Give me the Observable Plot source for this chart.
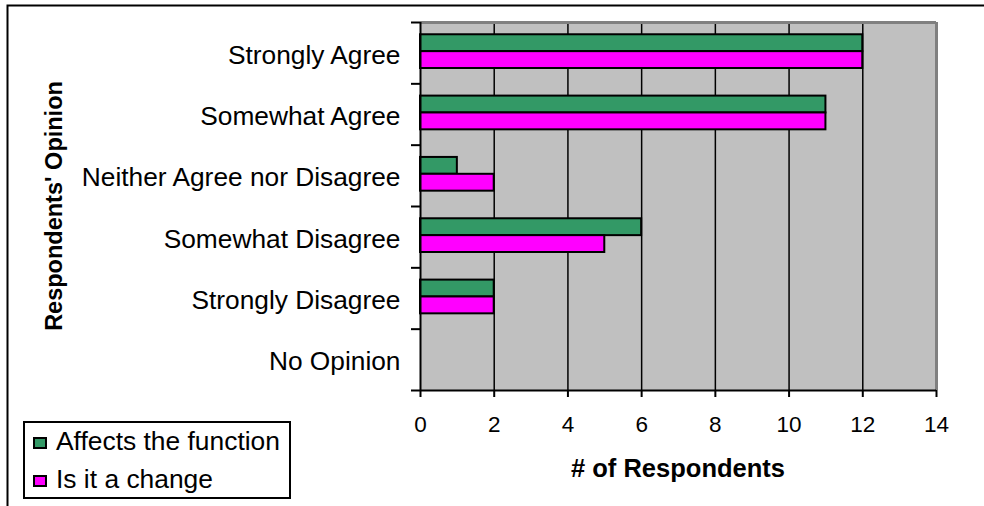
<!DOCTYPE html>
<html><head><meta charset="utf-8">
<script src="https://cdn.jsdelivr.net/npm/d3@7"></script>
<script src="https://cdn.jsdelivr.net/npm/@observablehq/plot@0.6"></script>
<style>
body{margin:0;background:#fff;font-family:"Liberation Sans",Arial,sans-serif;}
#wrap{position:relative;width:984px;height:506px;overflow:hidden;}
#wrap svg{position:absolute;left:0;top:0;}
</style></head><body><div id="wrap"></div>
<script>
const categories = ["Strongly Agree","Somewhat Agree","Neither Agree nor Disagree","Somewhat Disagree","Strongly Disagree","No Opinion"];
const affectsFunction = [12,11,1,6,2,0];
const isChange = [12,11,2,5,2,0];
const seriesNames = ["Affects the function","Is it a change"];
const seriesColors = ["#339966","#ff00ff"];
const xTicks = [0,2,4,6,8,10,12,14];
const xLabel = "# of Respondents";
const yLabel = "Respondents' Opinion";

const rows = [];
categories.forEach((c,i)=>{
  rows.push({category:c, index:i, series:seriesNames[0], value:affectsFunction[i], slot:0});
  rows.push({category:c, index:i, series:seriesNames[1], value:isChange[i], slot:1});
});
const bars = rows.filter(d=>d.value>0);
const slotEdges = [0.2, 0.475, 0.75];

const chart = Plot.plot({
  width:984, height:506,
  marginLeft:420, marginRight:48, marginTop:22, marginBottom:116,
  style:{fontFamily:"Liberation Sans, Arial, sans-serif", color:"#000", background:"transparent"},
  x:{domain:[0,14]},
  y:{domain:[0,categories.length], reverse:true},
  color:{domain:seriesNames, range:seriesColors},
  marks:[
    Plot.frame({fill:"#c0c0c0", stroke:null}),
    Plot.ruleX(xTicks.filter(t=>t>0&&t<14), {stroke:"#000", strokeWidth:1.5}),
    Plot.ruleY([0], {stroke:"#808080", strokeWidth:3}),
    Plot.ruleX([14], {stroke:"#808080", strokeWidth:3}),
    Plot.rect(bars, {x1:d=>0, x2:"value", y1:d=>d.index+slotEdges[d.slot], y2:d=>d.index+slotEdges[d.slot+1], fill:"series", stroke:"#000", strokeWidth:2}),
    Plot.ruleX([0], {stroke:"#000", strokeWidth:2}),
    Plot.ruleY([categories.length], {stroke:"#000", strokeWidth:2}),
    Plot.axisX({ticks:xTicks, tickSize:7, tickPadding:19, fontSize:22.5, strokeWidth:2, label:null}),
    Plot.axisY({ticks:d3.range(categories.length+1), tickSize:9, strokeWidth:2, tickFormat:()=>"", label:null}),
    Plot.axisY({ticks:categories.map((c,i)=>i+0.5), tickSize:0, tickPadding:20, fontSize:26.3, tickFormat:v=>categories[Math.floor(v)], label:null, dy:2})
  ]
});
const wrap = document.getElementById("wrap");
wrap.appendChild(chart);
const color = chart.scale("color");
const over = d3.select(wrap).append("svg").attr("width",984).attr("height",506)
  .style("font-family","Liberation Sans, Arial, sans-serif");
over.append("path").attr("d","M7.5,506V5.5H984").attr("fill","none").attr("stroke","#000").attr("stroke-width",2);
over.append("text").attr("x",678).attr("y",477).attr("text-anchor","middle")
  .attr("font-size",25.5).attr("font-weight","bold").attr("fill","#000").text(xLabel);
over.append("text").attr("transform","translate(61.5,206) rotate(-90)").attr("text-anchor","middle")
  .attr("font-size",23.5).attr("font-weight","bold").attr("fill","#000").text(yLabel);
over.append("rect").attr("x",24).attr("y",422).attr("width",266).attr("height",76)
  .attr("fill","#fff").attr("stroke","#000").attr("stroke-width",2);
seriesNames.forEach((s,i)=>{
  over.append("rect").attr("x",34).attr("y",438+i*38).attr("width",12).attr("height",10)
    .attr("fill",color.apply(s)).attr("stroke","#000").attr("stroke-width",2);
  over.append("text").attr("x",56).attr("y",450+i*38).attr("font-size",26.4).attr("fill","#000").text(s);
});
</script></body></html>
